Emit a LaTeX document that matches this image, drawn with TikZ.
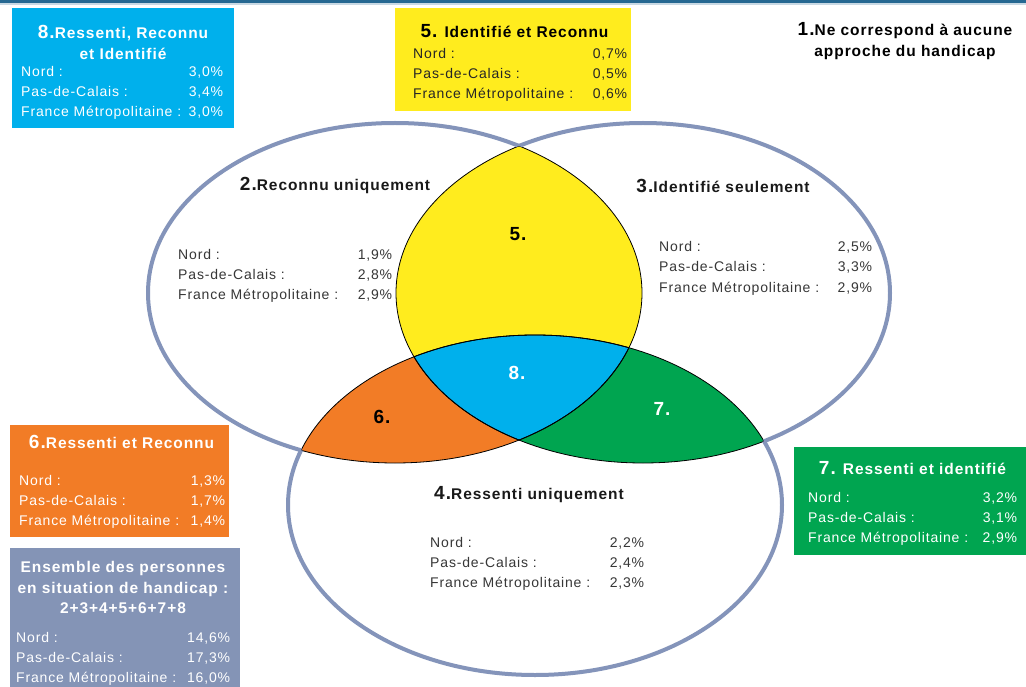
\documentclass[tikz,border=0pt]{standalone}
\usepackage{fontspec}
\setmainfont{Liberation Sans}[LetterSpace=6]
\definecolor{ardoise}{RGB}{132,148,186}
\definecolor{jaune}{RGB}{255,236,30}
\definecolor{cyan8}{RGB}{0,176,236}
\definecolor{orange6}{RGB}{242,124,38}
\definecolor{vert7}{RGB}{0,165,80}
\definecolor{grisbleu}{RGB}{132,148,182}
\definecolor{bandeau}{RGB}{38,104,146}
\definecolor{texte}{RGB}{55,55,55}

\newcommand{\gauche}{(395,293) ellipse (247 and 170)}
\newcommand{\droite}{(643,293) ellipse (247 and 170)}
\newcommand{\bas}{(535,505) ellipse (247 and 170)}
\newcommand{\dehors}{(0,0) rectangle (1026,687)}
\newcommand{\gros}[1]{{\fontsize{19}{20.5}\selectfont #1}}
\newcommand{\taux}[4]{\begin{tabular*}{#1}[t]{@{}l@{\extracolsep{\fill}}r@{}}Nord :&#2\\Pas-de-Calais :&#3\\France Métropolitaine :&#4\end{tabular*}}

\tikzset{
  titre/.style={align=center, inner sep=0pt, font=\bfseries\fontsize{15.5}{20.5}\selectfont},
  chiffres/.style={anchor=base west, inner sep=0pt, font=\fontsize{14}{20}\selectfont},
  zone/.style={inner sep=0pt, font=\bfseries\fontsize{19}{19}\selectfont},
  trait/.style={black, line width=0.8pt},
  contour/.style={ardoise, line width=4pt},
}

\begin{document}
\begin{tikzpicture}[x=1pt, y=-1pt]
            \useasboundingbox \dehors;
            \fill[white]    \dehors;
            \fill[bandeau]  (0,0) rectangle (1026,3);
            \fill[bandeau!25] (0,3) rectangle (1026,5);

            \begin{scope}\clip \gauche;  \fill[jaune]   \droite; \end{scope}
            \begin{scope}\clip \gauche;  \fill[orange6] \bas;    \end{scope}
            \begin{scope}\clip \droite;  \fill[vert7]   \bas;    \end{scope}
            \begin{scope}\clip \gauche; \clip \droite; \fill[cyan8] \bas; \end{scope}

            \begin{scope}\clip \gauche;  \draw[trait] \droite; \draw[trait] \bas;    \end{scope}
            \begin{scope}\clip \droite;  \draw[trait] \gauche; \draw[trait] \bas;    \end{scope}
            \begin{scope}\clip \bas;     \draw[trait] \gauche; \draw[trait] \droite; \end{scope}

            \begin{scope}[even odd rule]\clip \dehors \droite; \clip \dehors \bas;    \draw[contour] \gauche; \end{scope}
            \begin{scope}[even odd rule]\clip \dehors \gauche; \clip \dehors \bas;    \draw[contour] \droite; \end{scope}
            \begin{scope}[even odd rule]\clip \dehors \gauche; \clip \dehors \droite; \draw[contour] \bas;    \end{scope}

            \node[zone]              (n5) at (518,234) {5.};
            \node[zone, white]       (n8) at (517,373) {8.};
            \node[zone]              (n6) at (382,417) {6.};
            \node[zone, white]       (n7) at (662,409) {7.};

            \node[titre]             (t1) at (905,41)  {\gros{1.}Ne correspond à aucune\\approche du handicap};

            \node[titre, black!90]   (t2) at (335,185) {\gros{2.}Reconnu uniquement};
            \node[chiffres, texte]   (v2) at (178,260) {\taux{214pt}{1,9\%}{2,8\%}{2,9\%}};
            \node[titre, black!90]   (t3) at (723,186) {\gros{3.}Identifié seulement};
            \node[chiffres, texte]   (v3) at (659,252) {\taux{213pt}{2,5\%}{3,3\%}{2,9\%}};
            \node[titre, black!90]   (t4) at (529,495) {\gros{4.}Ressenti uniquement};
            \node[chiffres, texte]   (v4) at (430,547) {\taux{214pt}{2,2\%}{2,4\%}{2,3\%}};

            \fill[cyan8]    (12,8)    rectangle (234,128);
            \node[titre, white]      (t8) at (123,42.5) {\gros{8.}Ressenti, Reconnu\\et Identifié};
            \node[chiffres, white]   (v8) at (21,77)   {\taux{202pt}{3,0\%}{3,4\%}{3,0\%}};

            \fill[jaune]    (395,8)   rectangle (631,111);
            \node[titre]             (t5) at (514.5,31) {\gros{5.} Identifié et Reconnu};
            \node[chiffres, black!85] (v5) at (413,59)  {\taux{214pt}{0,7\%}{0,5\%}{0,6\%}};

            \fill[orange6]  (10,425)  rectangle (229,537);
            \node[titre, white]      (t6) at (121.5,442) {\gros{6.}Ressenti et Reconnu};
            \node[chiffres, white]   (v6) at (19,485)  {\taux{206pt}{1,3\%}{1,7\%}{1,4\%}};

            \fill[vert7]    (794,447) rectangle (1026,555);
            \node[titre, white]      (t7) at (912.5,468) {\gros{7.} Ressenti et identifié};
            \node[chiffres, white]   (v7) at (808,502) {\taux{209pt}{3,2\%}{3,1\%}{2,9\%}};

            \fill[grisbleu] (10,548)  rectangle (240,687);
            \node[titre, white]      (tall) at (123,587.5) {Ensemble des personnes\\en situation de handicap :\\2+3+4+5+6+7+8};
            \node[chiffres, white]   (vall) at (16,642) {\taux{214pt}{14,6\%}{17,3\%}{16,0\%}};
        \end{tikzpicture}
\end{document}
